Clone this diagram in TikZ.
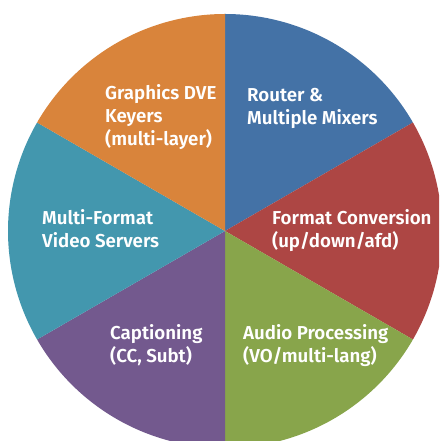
\documentclass[tikz,border=0pt]{standalone}
\usepackage{fontspec}
\setsansfont{Fira Sans}[BoldFont={* SemiBold}]
\definecolor{keyorange}{RGB}{217,132,59}
\definecolor{routerblue}{RGB}{68,114,166}
\definecolor{convred}{RGB}{173,70,68}
\definecolor{audiogreen}{RGB}{136,165,75}
\definecolor{captpurple}{RGB}{115,89,142}
\definecolor{serverteal}{RGB}{67,151,174}
\tikzset{
	sectorlabel/.style={white, anchor=base west, align=left, inner sep=0pt,
		font=\sffamily\bfseries\fontsize{18.7}{23}\selectfont}
}
\begin{document}
\begin{tikzpicture}[x=1pt, y=1pt]
		\useasboundingbox (0,0) rectangle (439,441);
		\clip (0,0) rectangle (439,441);
		\coordinate (c) at (225,210);
		\fill[routerblue] (c) -- ++(90:217) arc[start angle=90, end angle=30, radius=217] -- cycle;
		\fill[convred] (c) -- ++(30:217) arc[start angle=30, end angle=-30, radius=217] -- cycle;
		\fill[audiogreen] (c) -- ++(-30:217) arc[start angle=-30, end angle=-90, radius=217] -- cycle;
		\fill[captpurple] (c) -- ++(-90:217) arc[start angle=-90, end angle=-150, radius=217] -- cycle;
		\fill[serverteal] (c) -- ++(210:217) arc[start angle=210, end angle=150, radius=217] -- cycle;
		\fill[keyorange] (c) -- ++(150:217) arc[start angle=150, end angle=90, radius=217] -- cycle;
		\node[sectorlabel] (graphics) at (105,295) {Graphics DVE\\Keyers\\(multi-layer)};
		\node[sectorlabel] (router) at (247,316) {Router \&\\Multiple Mixers};
		\node[sectorlabel] (conversion) at (272,193) {Format Conversion\\(up/down/afd)};
		\node[sectorlabel] (servers) at (42,193) {Multi-Format\\Video Servers};
		\node[sectorlabel] (captioning) at (110,78) {Captioning\\(CC, Subt)};
		\node[sectorlabel] (audio) at (243,78) {Audio Processing\\(VO/multi-lang)};
	\end{tikzpicture}
\end{document}
